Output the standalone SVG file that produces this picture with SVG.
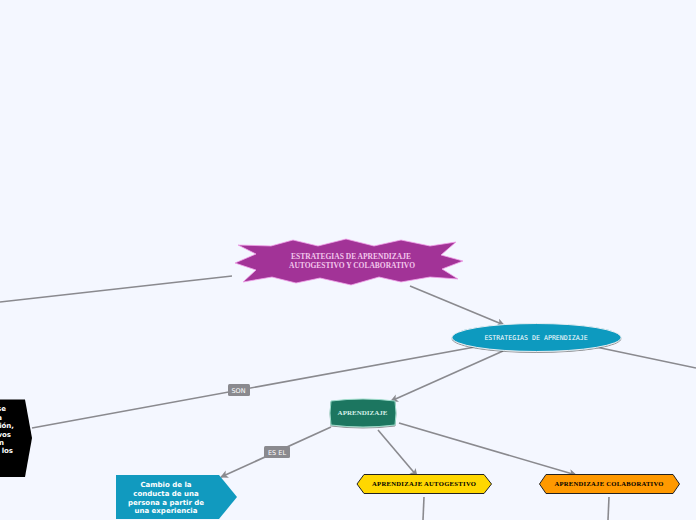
<svg xmlns="http://www.w3.org/2000/svg" width="696" height="520" viewBox="0 0 696 520">
<defs>
<marker id="a" markerUnits="userSpaceOnUse" markerWidth="10" markerHeight="10" refX="7" refY="4" orient="auto"><path d="M0 0L8 4L0 8L2 4Z" fill="#8a8a8f"/></marker>
<filter id="s" x="-10%" y="-20%" width="120%" height="150%"><feDropShadow dx="0" dy="1" stdDeviation="0.7" flood-color="#555" flood-opacity="0.6"/></filter>
</defs>
<style>
.c{fill:none;stroke:#8a8a8f;stroke-width:1.6}
.ar{marker-end:url(#a)}
text{text-anchor:middle}
.se{font-family:"Liberation Serif",serif;font-weight:700}
.sa{font-family:"DejaVu Sans",sans-serif;font-weight:700;font-size:7px;fill:#fff}
.e{text-anchor:end}
.l{font-family:"DejaVu Sans",sans-serif;font-size:6.5px;fill:#fff}
.lb{fill:#8a8a8f}
</style>
<rect width="696" height="520" fill="#f4f7ff"/>
<g id="connectors">
<path class="c" d="M0 302L232 276"/>
<path class="c ar" d="M410 286L504 325"/>
<path class="c" d="M32 428L475 347"/>
<path class="c ar" d="M503 351L391 401"/>
<path class="c" d="M596 347L696 368"/>
<path class="c ar" d="M331 427L221 477"/>
<path class="c ar" d="M378 430L417 476"/>
<path class="c ar" d="M399 423L576 475"/>
<path class="c" d="M424 497L423 520"/>
<path class="c" d="M609 497L608 520"/>
<rect class="lb" x="228" y="384" width="22" height="12" rx="1.5"/>
<text class="l" x="238.500" y="392.500">SON</text>
<rect class="lb" x="264" y="446" width="26" height="12" rx="1.500"/>
<text class="l" x="277" y="454.500">ES EL</text>
</g>
<g id="n1">
<path d="M238 245L271 246L293 240L318 246L346 239L374 246L401 240L430 246L456 242L441 255L463 261L442 269L458 279L430 277L401 282L379 277L351 285L320 278L296 283L272 277L243 282L256 270L235 263L256 254Z" fill="#a23397" stroke="#f0a0e8" stroke-width="0.800"/>
<text class="se" font-size="7.500" fill="#f2c6ec" x="351" y="259">ESTRATEGIAS DE APRENDIZAJE</text>
<text class="se" font-size="7.500" fill="#f2c6ec" x="352" y="268">AUTOGESTIVO Y COLABORATIVO</text>
</g>
<g id="n2">
<ellipse cx="536.500" cy="337.500" rx="84.500" ry="14" fill="#119abf" stroke="#e8eef2" stroke-width="1" filter="url(#s)"/>
<text font-family="DejaVu Sans Mono, monospace" font-size="6.600" fill="#fff" x="536" y="340">ESTRATEGIAS DE APRENDIZAJE</text>
</g>
<g id="n3">
<path d="M331 401Q363 397 395 401Q397 413 395 425Q363 429 331 425Q329 413 331 401Z" fill="#1a7660" stroke="#9fdccb" stroke-width="1" filter="url(#s)"/>
<text class="se" font-size="7" fill="#d5efe7" x="362.500" y="415">APRENDIZAJE</text>
</g>
<g id="n4">
<path d="M0 399.500H25L32 438L25 477H0Z" fill="#000"/>
<text class="sa e" x="6" y="411">se</text>
<text class="sa e" x="2" y="419.500">a</text>
<text class="sa e" x="14" y="428">ión,</text>
<text class="sa e" x="11" y="436.500">vos</text>
<text class="sa e" x="4" y="445">n</text>
<text class="sa e" x="13" y="453">los</text>
</g>
<g id="n5">
<path d="M116 475H219L237 497L219 519H116Z" fill="#119abf"/>
<text class="sa" x="166" y="487">Cambio de la</text>
<text class="sa" x="166" y="496">conducta de una</text>
<text class="sa" x="166" y="504.500">persona a partir de</text>
<text class="sa" x="166" y="513">una experiencia</text>
</g>
<g id="n6">
<path d="M364 474.500H484L491.500 484L484 493.500H364L357 484Z" fill="#ffd700" stroke="#222" stroke-width="1"/>
<text class="se" font-size="6.600" fill="#000" x="424" y="486" textLength="104">APRENDIZAJE AUTOGESTIVO</text>
</g>
<g id="n7">
<path d="M546 474.500H673L679.500 484L673 493.500H546L539.500 484Z" fill="#ff9900" stroke="#222" stroke-width="1"/>
<text class="se" font-size="6.600" fill="#000" x="609" y="486" textLength="109">APRENDIZAJE COLABORATIVO</text>
</g>
</svg>
